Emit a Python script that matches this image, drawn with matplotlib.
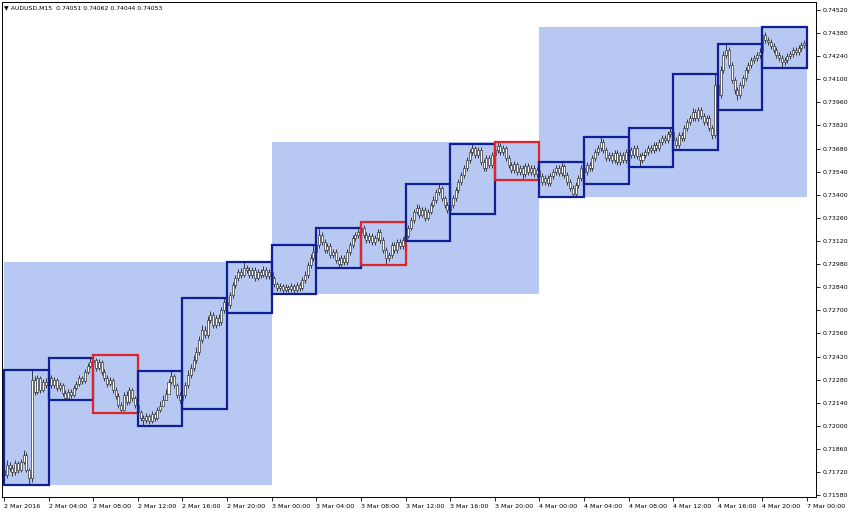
import matplotlib
matplotlib.use("Agg")
import matplotlib.pyplot as plt
from matplotlib.patches import Rectangle
import numpy as np

header = "\u25bc AUDUSD,M15  0.74051 0.74062 0.74044 0.74053"

# M15 bars, 2 Mar - 4 Mar 2016 (96 bars per day, open = previous close)
first_open = 0.71733

close_d1 = [0.71702, 0.71763, 0.71745, 0.71721, 0.71775, 0.71733, 0.71781, 0.71824, 0.71733, 0.71684, 0.72278, 0.72206, 0.72290, 0.72218, 0.72266, 0.72248,
            0.72290, 0.72248, 0.72278, 0.72230, 0.72248, 0.72199, 0.72169, 0.72206, 0.72187, 0.72230, 0.72254, 0.72290, 0.72272, 0.72327, 0.72363, 0.72387,
            0.72399, 0.72351, 0.72387, 0.72327, 0.72290, 0.72254, 0.72278, 0.72218, 0.72181, 0.72127, 0.72096, 0.72187, 0.72145, 0.72218, 0.72169, 0.72127,
            0.72084, 0.72048, 0.72036, 0.72060, 0.72030, 0.72072, 0.72048, 0.72096, 0.72121, 0.72157, 0.72193, 0.72266, 0.72302, 0.72248, 0.72187, 0.72157,
            0.72187, 0.72248, 0.72309, 0.72351, 0.72399, 0.72448, 0.72521, 0.72581, 0.72551, 0.72642, 0.72672, 0.72611, 0.72654, 0.72630, 0.72702, 0.72751,
            0.72733, 0.72793, 0.72854, 0.72896, 0.72933, 0.72915, 0.72957, 0.72945, 0.72915, 0.72945, 0.72896, 0.72933, 0.72915, 0.72945, 0.72908, 0.72933]
high_d1 = [0.71757, 0.71793, 0.71781, 0.71763, 0.71793, 0.71787, 0.71799, 0.71854, 0.71842, 0.71745, 0.72339, 0.72302, 0.72309, 0.72302, 0.72284, 0.72290,
           0.72327, 0.72309, 0.72296, 0.72290, 0.72266, 0.72260, 0.72218, 0.72224, 0.72224, 0.72248, 0.72272, 0.72309, 0.72302, 0.72345, 0.72381, 0.72412,
           0.72430, 0.72412, 0.72405, 0.72399, 0.72345, 0.72309, 0.72296, 0.72290, 0.72236, 0.72199, 0.72145, 0.72206, 0.72212, 0.72236, 0.72230, 0.72181,
           0.72139, 0.72096, 0.72066, 0.72078, 0.72072, 0.72090, 0.72084, 0.72115, 0.72151, 0.72187, 0.72224, 0.72284, 0.72333, 0.72315, 0.72260, 0.72206,
           0.72206, 0.72266, 0.72339, 0.72375, 0.72430, 0.72478, 0.72545, 0.72611, 0.72605, 0.72666, 0.72696, 0.72690, 0.72672, 0.72678, 0.72721, 0.72775,
           0.72769, 0.72812, 0.72872, 0.72915, 0.72951, 0.72957, 0.72993, 0.72975, 0.72963, 0.72963, 0.72963, 0.72951, 0.72951, 0.72969, 0.72963, 0.72951]
low_d1 = [0.71672, 0.71684, 0.71727, 0.71696, 0.71702, 0.71715, 0.71721, 0.71769, 0.71721, 0.71642, 0.71660, 0.72187, 0.72193, 0.72199, 0.72206, 0.72230,
          0.72218, 0.72230, 0.72230, 0.72212, 0.72212, 0.72181, 0.72157, 0.72163, 0.72169, 0.72175, 0.72218, 0.72242, 0.72254, 0.72260, 0.72315, 0.72351,
          0.72369, 0.72333, 0.72339, 0.72309, 0.72272, 0.72236, 0.72242, 0.72199, 0.72163, 0.72109, 0.72078, 0.72090, 0.72127, 0.72133, 0.72151, 0.72109,
          0.72066, 0.72030, 0.71999, 0.72018, 0.72012, 0.72018, 0.72030, 0.72036, 0.72084, 0.72121, 0.72157, 0.72193, 0.72254, 0.72230, 0.72169, 0.72139,
          0.72102, 0.72169, 0.72230, 0.72290, 0.72333, 0.72381, 0.72430, 0.72502, 0.72533, 0.72533, 0.72624, 0.72593, 0.72593, 0.72605, 0.72611, 0.72684,
          0.72684, 0.72715, 0.72775, 0.72836, 0.72878, 0.72896, 0.72902, 0.72927, 0.72896, 0.72896, 0.72878, 0.72884, 0.72896, 0.72902, 0.72890, 0.72890]

close_d2 = [0.72896, 0.72860, 0.72836, 0.72848, 0.72824, 0.72842, 0.72830, 0.72848, 0.72824, 0.72854, 0.72836, 0.72884, 0.72915, 0.72975, 0.73017, 0.73054,
            0.73096, 0.73157, 0.73114, 0.73066, 0.73090, 0.73036, 0.73054, 0.73005, 0.72981, 0.73017, 0.72993, 0.73054, 0.73096, 0.73139, 0.73157, 0.73175,
            0.73199, 0.73157, 0.73127, 0.73151, 0.73114, 0.73139, 0.73175, 0.73127, 0.73066, 0.73017, 0.73036, 0.73096, 0.73066, 0.73114, 0.73090, 0.73127,
            0.73151, 0.73199, 0.73248, 0.73296, 0.73321, 0.73278, 0.73308, 0.73260, 0.73296, 0.73339, 0.73369, 0.73417, 0.73442, 0.73381, 0.73339, 0.73308,
            0.73339, 0.73381, 0.73430, 0.73478, 0.73521, 0.73563, 0.73611, 0.73660, 0.73684, 0.73642, 0.73672, 0.73599, 0.73563, 0.73624, 0.73581, 0.73642,
            0.73672, 0.73696, 0.73660, 0.73684, 0.73624, 0.73581, 0.73551, 0.73587, 0.73539, 0.73563, 0.73527, 0.73575, 0.73539, 0.73563, 0.73527, 0.73551]
high_d2 = [0.72951, 0.72908, 0.72872, 0.72866, 0.72860, 0.72860, 0.72854, 0.72866, 0.72860, 0.72872, 0.72872, 0.72902, 0.72939, 0.72993, 0.73042, 0.73096,
           0.73121, 0.73199, 0.73175, 0.73133, 0.73108, 0.73108, 0.73072, 0.73072, 0.73024, 0.73036, 0.73036, 0.73072, 0.73114, 0.73157, 0.73175, 0.73193,
           0.73236, 0.73218, 0.73175, 0.73169, 0.73169, 0.73157, 0.73193, 0.73193, 0.73145, 0.73084, 0.73054, 0.73114, 0.73114, 0.73133, 0.73133, 0.73145,
           0.73169, 0.73218, 0.73266, 0.73314, 0.73345, 0.73339, 0.73327, 0.73327, 0.73314, 0.73357, 0.73393, 0.73436, 0.73466, 0.73454, 0.73393, 0.73357,
           0.73357, 0.73399, 0.73448, 0.73496, 0.73539, 0.73581, 0.73630, 0.73678, 0.73708, 0.73696, 0.73690, 0.73690, 0.73618, 0.73642, 0.73642, 0.73660,
           0.73690, 0.73720, 0.73714, 0.73702, 0.73696, 0.73642, 0.73599, 0.73605, 0.73599, 0.73581, 0.73581, 0.73593, 0.73593, 0.73581, 0.73581, 0.73569]
low_d2 = [0.72878, 0.72842, 0.72817, 0.72817, 0.72799, 0.72812, 0.72812, 0.72812, 0.72805, 0.72812, 0.72817, 0.72824, 0.72866, 0.72896, 0.72957, 0.72999,
          0.73036, 0.73078, 0.73096, 0.73048, 0.73048, 0.73017, 0.73017, 0.72987, 0.72957, 0.72969, 0.72975, 0.72975, 0.73036, 0.73078, 0.73121, 0.73139,
          0.73157, 0.73139, 0.73108, 0.73108, 0.73096, 0.73096, 0.73121, 0.73108, 0.73048, 0.72975, 0.72999, 0.73017, 0.73048, 0.73048, 0.73072, 0.73072,
          0.73121, 0.73139, 0.73187, 0.73230, 0.73284, 0.73260, 0.73266, 0.73242, 0.73248, 0.73284, 0.73327, 0.73351, 0.73399, 0.73363, 0.73321, 0.73290,
          0.73284, 0.73321, 0.73363, 0.73411, 0.73460, 0.73502, 0.73545, 0.73593, 0.73642, 0.73624, 0.73624, 0.73581, 0.73545, 0.73545, 0.73563, 0.73563,
          0.73624, 0.73654, 0.73642, 0.73642, 0.73605, 0.73563, 0.73533, 0.73533, 0.73521, 0.73521, 0.73490, 0.73508, 0.73521, 0.73521, 0.73508, 0.73508]

close_d3 = [0.73514, 0.73478, 0.73502, 0.73472, 0.73514, 0.73539, 0.73563, 0.73533, 0.73575, 0.73521, 0.73478, 0.73442, 0.73405, 0.73460, 0.73502, 0.73563,
            0.73539, 0.73581, 0.73563, 0.73624, 0.73660, 0.73684, 0.73720, 0.73672, 0.73624, 0.73642, 0.73611, 0.73654, 0.73599, 0.73642, 0.73611, 0.73660,
            0.73672, 0.73642, 0.73684, 0.73636, 0.73611, 0.73642, 0.73660, 0.73684, 0.73672, 0.73702, 0.73684, 0.73720, 0.73745, 0.73733, 0.73769, 0.73781,
            0.73733, 0.73702, 0.73763, 0.73745, 0.73805, 0.73842, 0.73866, 0.73902, 0.73866, 0.73914, 0.73878, 0.73842, 0.73866, 0.73805, 0.73763, 0.74066,
            0.74005, 0.74157, 0.74248, 0.74278, 0.74187, 0.74096, 0.74036, 0.74005, 0.74066, 0.74108, 0.74157, 0.74187, 0.74217, 0.74230, 0.74248, 0.74266,
            0.74369, 0.74339, 0.74326, 0.74302, 0.74278, 0.74248, 0.74230, 0.74205, 0.74217, 0.74242, 0.74254, 0.74278, 0.74266, 0.74290, 0.74308, 0.74320]
high_d3 = [0.73569, 0.73533, 0.73521, 0.73521, 0.73533, 0.73557, 0.73581, 0.73581, 0.73599, 0.73587, 0.73539, 0.73496, 0.73460, 0.73478, 0.73521, 0.73581,
           0.73581, 0.73599, 0.73599, 0.73642, 0.73678, 0.73702, 0.73751, 0.73739, 0.73690, 0.73660, 0.73660, 0.73672, 0.73672, 0.73660, 0.73660, 0.73678,
           0.73690, 0.73690, 0.73702, 0.73702, 0.73654, 0.73660, 0.73678, 0.73702, 0.73702, 0.73720, 0.73720, 0.73739, 0.73763, 0.73763, 0.73787, 0.73805,
           0.73799, 0.73751, 0.73781, 0.73781, 0.73823, 0.73860, 0.73884, 0.73926, 0.73920, 0.73933, 0.73933, 0.73896, 0.73884, 0.73884, 0.73823, 0.74133,
           0.74084, 0.74181, 0.74272, 0.74314, 0.74296, 0.74205, 0.74114, 0.74054, 0.74084, 0.74126, 0.74175, 0.74205, 0.74236, 0.74248, 0.74266, 0.74290,
           0.74417, 0.74387, 0.74357, 0.74345, 0.74320, 0.74296, 0.74266, 0.74248, 0.74236, 0.74260, 0.74272, 0.74296, 0.74296, 0.74308, 0.74326, 0.74339]
low_d3 = [0.73496, 0.73460, 0.73460, 0.73454, 0.73454, 0.73496, 0.73521, 0.73514, 0.73514, 0.73502, 0.73460, 0.73424, 0.73387, 0.73393, 0.73442, 0.73484,
          0.73466, 0.73521, 0.73545, 0.73545, 0.73605, 0.73642, 0.73666, 0.73654, 0.73605, 0.73605, 0.73593, 0.73593, 0.73581, 0.73581, 0.73593, 0.73593,
          0.73642, 0.73624, 0.73624, 0.73618, 0.73569, 0.73593, 0.73624, 0.73642, 0.73654, 0.73654, 0.73666, 0.73666, 0.73702, 0.73714, 0.73714, 0.73751,
          0.73672, 0.73684, 0.73684, 0.73726, 0.73726, 0.73787, 0.73823, 0.73848, 0.73848, 0.73848, 0.73860, 0.73823, 0.73823, 0.73787, 0.73739, 0.73745,
          0.73914, 0.73987, 0.74139, 0.74230, 0.74169, 0.74078, 0.74011, 0.73975, 0.73987, 0.74048, 0.74090, 0.74139, 0.74169, 0.74199, 0.74211, 0.74230,
          0.74248, 0.74320, 0.74308, 0.74284, 0.74260, 0.74230, 0.74211, 0.74169, 0.74187, 0.74199, 0.74224, 0.74236, 0.74248, 0.74248, 0.74272, 0.74290]

x_labels = ["2 Mar 2016", "2 Mar 04:00", "2 Mar 08:00", "2 Mar 12:00", "2 Mar 16:00", "2 Mar 20:00",
            "3 Mar 00:00", "3 Mar 04:00", "3 Mar 08:00", "3 Mar 12:00", "3 Mar 16:00", "3 Mar 20:00",
            "4 Mar 00:00", "4 Mar 04:00", "4 Mar 08:00", "4 Mar 12:00", "4 Mar 16:00", "4 Mar 20:00",
            "7 Mar 00:00"]
y_ticks = [0.71580, 0.71720, 0.71860, 0.72000, 0.72140, 0.72280, 0.72420, 0.72560, 0.72700, 0.72840, 0.72980,
           0.73120, 0.73260, 0.73400, 0.73540, 0.73680, 0.73820, 0.73960, 0.74100, 0.74240, 0.74380, 0.74520]

BARS_PER_BOX = 16
BARS_PER_DAY = 96
BOX_UP = "#0f1f96"
BOX_DOWN = "#e3232b"
DAY_FILL = "#b7c8f3"

closes = np.array(close_d1 + close_d2 + close_d3)
highs = np.array(high_d1 + high_d2 + high_d3)
lows = np.array(low_d1 + low_d2 + low_d3)
opens = np.concatenate([[first_open], closes[:-1]])
n = len(closes)
idx = np.arange(n)

fig = plt.figure(figsize=(8.5, 5.18), dpi=100)
ax = fig.add_axes([2 / 850, 21 / 518, 814 / 850, 495 / 518])

# daily range boxes
for s in range(0, n, BARS_PER_DAY):
    hi = highs[s:s + BARS_PER_DAY].max()
    lo = lows[s:s + BARS_PER_DAY].min()
    ax.add_patch(Rectangle((s, lo), BARS_PER_DAY, hi - lo, facecolor=DAY_FILL,
                           edgecolor="none", zorder=0))

# candles
ax.vlines(idx, lows, highs, color="#222222", linewidth=0.6, zorder=2)
ax.bar(idx, np.abs(closes - opens), bottom=np.minimum(opens, closes), width=0.72,
       color="white", edgecolor="#222222", linewidth=0.45, zorder=3)

# 4 hour boxes
for s in range(0, n, BARS_PER_BOX):
    hi = highs[s:s + BARS_PER_BOX].max()
    lo = lows[s:s + BARS_PER_BOX].min()
    up = closes[s + BARS_PER_BOX - 1] >= opens[s]
    ax.add_patch(Rectangle((s, lo), BARS_PER_BOX, hi - lo, fill=False,
                           edgecolor=BOX_UP if up else BOX_DOWN, linewidth=1.6, zorder=4))

px_per_bar = 803 / n
ax.set_xlim(-2 / px_per_bar, n + 9 / px_per_bar)
ax.set_ylim(0.71569, 0.74568)

ax.set_xticks(np.arange(0, n + 1, BARS_PER_BOX))
ax.set_xticklabels(x_labels, fontsize=4.6)
for lab in ax.get_xticklabels():
    lab.set_horizontalalignment("left")
ax.yaxis.tick_right()
ax.set_yticks(y_ticks)
ax.set_yticklabels([f"{v:.5f}" for v in y_ticks], fontsize=4.5)
ax.tick_params(axis="both", length=3, width=0.6, pad=2, colors="black")
for sp in ax.spines.values():
    sp.set_linewidth(0.7)
    sp.set_color("black")

fig.text(4 / 850, 1 - 8 / 518, header, fontsize=4.4, va="center", ha="left")

fig.savefig("out.png", dpi=100)
